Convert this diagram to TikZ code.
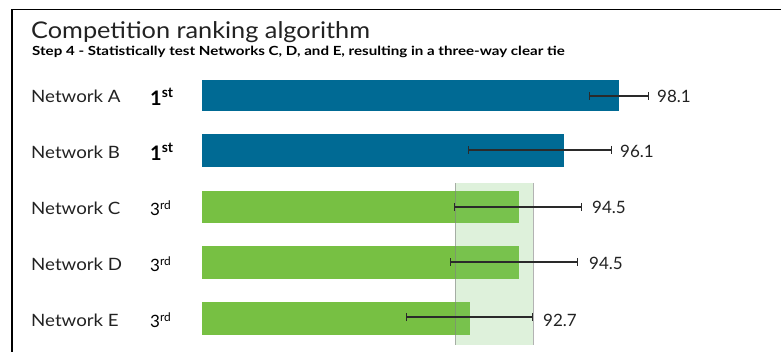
\documentclass[tikz,border=0pt]{standalone}
\usepackage{fontspec}
\setmainfont{Lato}[FakeStretch=1.1]
\newfontfamily\plainfont{Lato}
\newfontfamily\subfont{Lato}[FakeStretch=1.2]
\usetikzlibrary{arrows.meta}
\definecolor{barblue}{HTML}{006A94}
\definecolor{bargreen}{HTML}{77C043}
\definecolor{bandgreen}{HTML}{7CC86E}
\definecolor{errc}{HTML}{2A2A2A}
\definecolor{txt}{HTML}{222222}
\tikzset{
  lbl/.style={anchor=west, inner sep=0pt, text=txt, font=\fontsize{17}{19}\selectfont},
  rank/.style={anchor=west, inner sep=0pt, text=black, font=\plainfont\fontsize{17}{19}\selectfont},
  val/.style={anchor=west, inner sep=0pt, text=txt, font=\plainfont\fontsize{17}{19}\selectfont},
  errbar/.style={draw=errc, line width=1.2pt, {Bar[width=8pt]}-{Bar[width=8pt]}},
}
\begin{document}
\begin{tikzpicture}[x=1pt,y=-1pt]
\useasboundingbox (0,0) rectangle (781,352);
% frame
\draw[line width=1.5pt, black] (12,352) -- (12,9.5) -- (781,9.5);
% title
\node[anchor=base west, inner sep=0pt, text=txt, font=\fontsize{23}{25}\selectfont] (title) at (31,39) {Competition ranking algorithm};
\node[anchor=base west, inner sep=0pt, text=black, font=\subfont\bfseries\fontsize{12.6}{14}\selectfont] (sub) at (32,56) {Step 4 - Statistically test Networks C, D, and E, resulting in a three-way clear tie};
% bars
\fill[barblue] (202,80) rectangle (619,111);
\fill[barblue] (202,134) rectangle (564,167);
\fill[bargreen] (202,191) rectangle (519,223);
\fill[bargreen] (202,246) rectangle (519,279);
\fill[bargreen] (202,302) rectangle (470,335);
% band
\fill[bandgreen, fill opacity=0.25] (455,183) rectangle (533,345);
\draw[gray, line width=1pt, draw opacity=0.6] (455,183) -- (455,345) (533,183) -- (533,345);
% labels
\node[lbl] (na) at (31,96) {Network A};
\node[lbl] (nb) at (31,152) {Network B};
\node[lbl] (nc) at (31,208) {Network C};
\node[lbl] (nd) at (31,264) {Network D};
\node[lbl] (ne) at (31,320) {Network E};
\node[rank, font=\plainfont\bfseries\fontsize{20}{22}\selectfont] (ra) at (150,97) {1\textsuperscript{st}};
\node[rank, font=\plainfont\bfseries\fontsize{20}{22}\selectfont] (rb) at (150,152) {1\textsuperscript{st}};
\node[rank] (rc) at (150,208) {3\textsuperscript{rd}};
\node[rank] (rd) at (150,264) {3\textsuperscript{rd}};
\node[rank] (re) at (150,320) {3\textsuperscript{rd}};
% error bars
\coordinate (ea1) at (589,96); \coordinate (ea2) at (649,96);
\coordinate (eb1) at (468,150); \coordinate (eb2) at (612,150);
\coordinate (ec1) at (454,207); \coordinate (ec2) at (582,207);
\coordinate (ed1) at (450,262); \coordinate (ed2) at (578,262);
\coordinate (ee1) at (406,317); \coordinate (ee2) at (533,317);
\draw[errbar] (ea1) -- (ea2);
\draw[errbar] (eb1) -- (eb2);
\draw[errbar] (ec1) -- (ec2);
\draw[errbar] (ed1) -- (ed2);
\draw[errbar] (ee1) -- (ee2);
% values
\node[val] (va) at (657,96) {98.1};
\node[val] (vb) at (620,151) {96.1};
\node[val] (vc) at (592,207) {94.5};
\node[val] (vd) at (589,263) {94.5};
\node[val] (ve) at (543,320) {92.7};
\end{tikzpicture}
\end{document}
